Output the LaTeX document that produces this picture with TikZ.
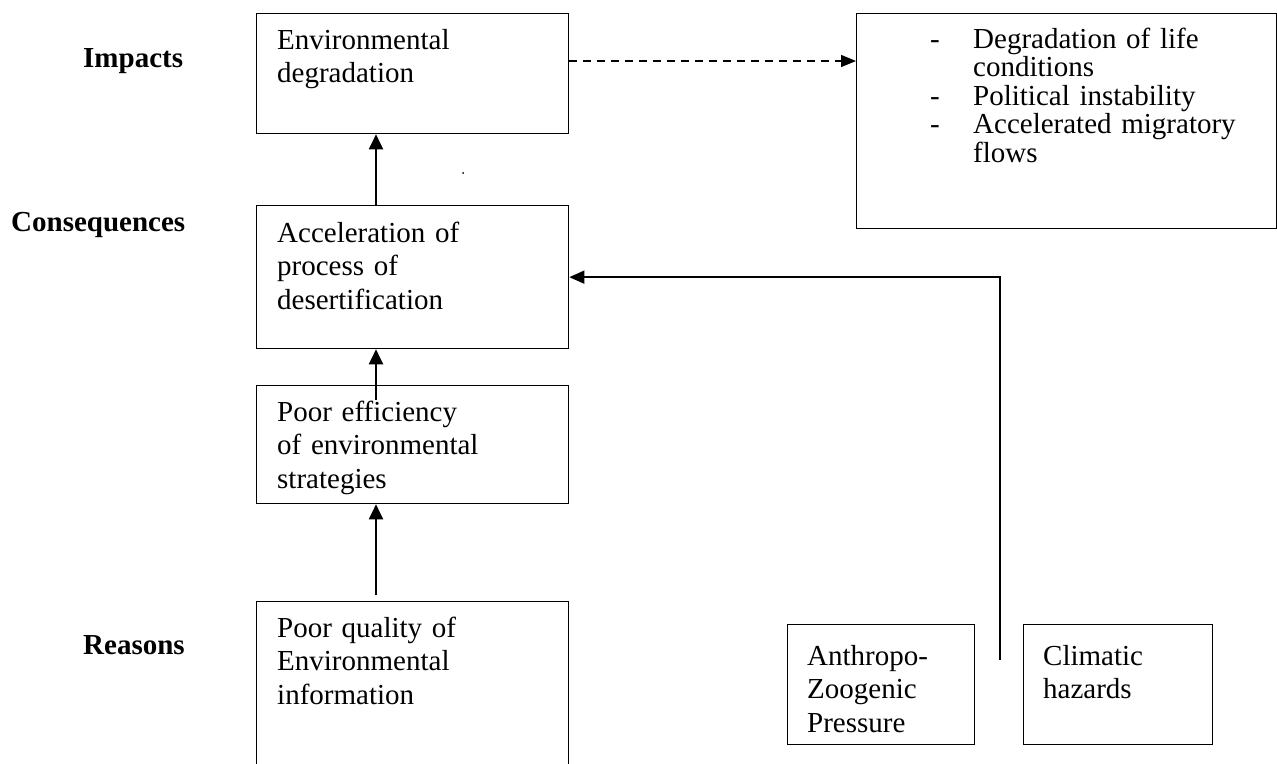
\documentclass[tikz,border=0pt]{standalone}
\usepackage{fontspec}
\setmainfont{Liberation Serif}
\usetikzlibrary{arrows.meta}
\begin{document}
\begin{tikzpicture}[x=1pt,y=-1pt,
  box/.style={draw, line width=1.3pt, anchor=north west, inner sep=0pt},
  txt/.style={font=\fontsize{29}{33.5}\selectfont, text width=330pt, align=left, anchor=base west, inner sep=0pt},
  lbl/.style={font=\fontsize{29}{33.5}\selectfont\bfseries, anchor=base west, inner sep=0pt},
  arr/.style={line width=2pt, -{Triangle[length=15pt,width=14pt]}},
  thinarr/.style={line width=1.4pt, -{Triangle[length=15pt,width=13pt]}},
  dasharr/.style={line width=1.4pt, dash pattern=on 8pt off 6pt, -{Triangle[length=15pt,width=12pt]}}]
\clip (0,0) rectangle (1277,763);
\fill[white] (0,0) rectangle (1277,763);
% boxes
\node[box, minimum width=312pt, minimum height=120pt] (env) at (256,13) {};
\node[box, minimum width=420pt, minimum height=215pt] (res) at (856,13) {};
\node[box, minimum width=312pt, minimum height=143pt] (acc) at (256,205) {};
\node[box, minimum width=312pt, minimum height=118pt] (eff) at (256,385) {};
\node[box, minimum width=312pt, minimum height=200pt] (qual) at (256,601) {};
\node[box, minimum width=187pt, minimum height=120pt] (anth) at (787,624) {};
\node[box, minimum width=189pt, minimum height=120pt] (clim) at (1023,624) {};
% texts
\node[txt] (envt) at (277,49) {Environmental\\degradation};
\node[txt] (acct) at (277,242) {Acceleration of\\process of\\desertification};
\node[txt] (efft) at (277,421) {Poor efficiency\\of environmental\\strategies};
\node[txt] (qualt) at (277,637) {Poor quality of\\Environmental\\information};
\node[txt, text width=170pt] (antht) at (807,665) {Anthropo-\\Zoogenic\\Pressure};
\node[txt, text width=170pt] (climt) at (1043,665) {Climatic\\hazards};
\node[txt, text width=340pt, font=\fontsize{29}{28.5}\selectfont] (rest) at (930,48) {\makebox[43pt][l]{-}Degradation of life\\
\hspace*{43pt}conditions\\
\makebox[43pt][l]{-}Political instability\\
\makebox[43pt][l]{-}Accelerated migratory\\
\hspace*{43pt}flows};
% side labels
\node[lbl] (imp) at (83,67) {Impacts};
\node[lbl] (cons) at (11,231) {Consequences};
\node[lbl] (reas) at (83,654) {Reasons};
% connectors
\coordinate (ax) at (376,0);
\coordinate (effin) at (376,400);
\coordinate (fb) at (1000,660);
\draw[arr] (ax |- acc.north) -- (ax |- env.south);
\draw[arr] (effin) -- (ax |- acc.south);
\draw[arr] ([yshift=6pt]ax |- qual.north) -- (ax |- eff.south);
\draw[dasharr] (env.east |- 0,61) -- (res.west |- 0,61);
\draw[thinarr] (fb) |- (acc.east);
\fill (463,173) circle (1pt);
\end{tikzpicture}
\end{document}
